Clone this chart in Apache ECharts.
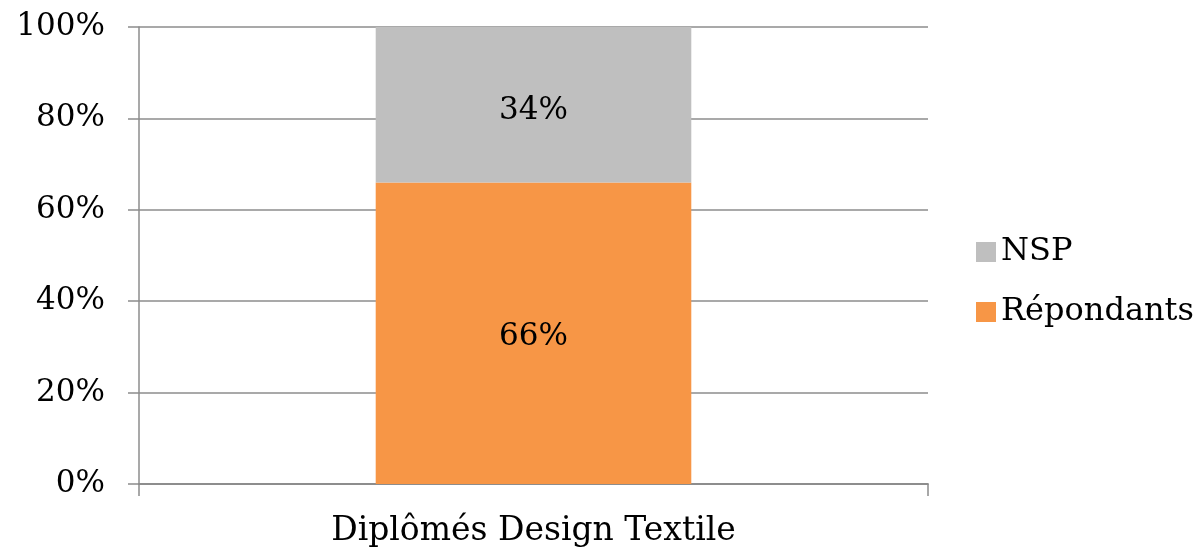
<!DOCTYPE html>
<html><head><meta charset="utf-8">
<script src="https://cdn.jsdelivr.net/npm/echarts@6/dist/echarts.min.js"></script>
<style>html,body{margin:0;padding:0;background:#fff}#c{width:1203px;height:548px}</style>
</head><body><div id="c"></div>
<script>
const categories = ['Diplômés Design Textile'];
const repondants = [66];
const nsp = [34];
const yTicks = [0, 20, 40, 60, 80, 100];

const FONT = 'DejaVu Serif';
const AX = '#8c8c8c';
const FS = 31;
const chart = echarts.init(document.getElementById('c'));
chart.setOption({
  animation: false,
  textStyle: { fontFamily: FONT, color: '#000' },
  grid: { left: 139, right: 275, top: 27, bottom: 64 },
  legend: {
    orient: 'vertical', left: 971, top: 231, itemWidth: 20, itemHeight: 20, itemGap: 28,
    icon: 'rect', data: ['NSP', 'Répondants'],
    textStyle: { fontFamily: FONT, fontSize: 32, color: '#000' }
  },
  xAxis: [{
    type: 'category', data: categories,
    axisLine: { lineStyle: { color: AX, width: 1.5 } },
    axisTick: { show: false },
    axisLabel: { fontFamily: FONT, fontSize: 33, color: '#000', margin: 31 }
  }, {
    type: 'value', position: 'bottom', min: 0, max: 1, interval: 1,
    axisLine: { show: true, lineStyle: { color: AX, width: 1.5 } },
    axisTick: { show: true, length: 12, lineStyle: { color: AX, width: 1.5 } },
    splitLine: { show: false },
    axisLabel: { show: false }
  }],
  yAxis: {
    type: 'value', min: 0, max: 100, interval: 20,
    axisLine: { show: true, lineStyle: { color: AX, width: 1.5 } },
    axisTick: { show: true, length: 11, lineStyle: { color: AX, width: 1.5 } },
    splitLine: { lineStyle: { color: AX, width: 1.5 } },
    axisLabel: { fontFamily: FONT, fontSize: FS, color: '#000', margin: 34, padding: [6, 0, 0, 0],
      formatter: v => yTicks.includes(v) ? v + '%' : '' }
  },
  series: [
    { name: 'Répondants', type: 'bar', stack: 's', data: repondants, barWidth: '40%',
      itemStyle: { color: '#f79646' },
      label: { show: true, position: 'inside', offset: [0, 4], formatter: '{c}%', fontFamily: FONT, fontSize: FS, color: '#000' } },
    { name: 'NSP', type: 'bar', stack: 's', data: nsp, barWidth: '40%',
      itemStyle: { color: '#bfbfbf' },
      label: { show: true, position: 'inside', offset: [0, 6], formatter: '{c}%', fontFamily: FONT, fontSize: FS, color: '#000' } }
  ]
});
</script></body></html>
